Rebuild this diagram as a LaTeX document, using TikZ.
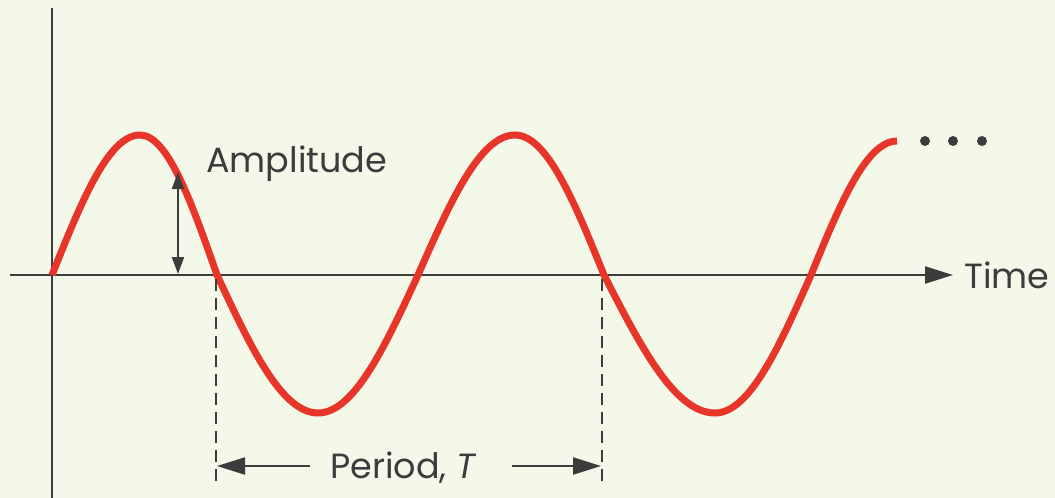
\documentclass[tikz,border=0pt]{standalone}
\usepackage{fontspec}
\setmainfont{Poppins}
\usetikzlibrary{arrows.meta,positioning}
\definecolor{bgcream}{HTML}{F4F8E8}
\definecolor{wavered}{HTML}{E8352A}
\definecolor{inkgray}{HTML}{3C3C3C}

\begin{document}
\begin{tikzpicture}[
  x=1pt, y=-1pt,
  axis/.style={draw=inkgray, line width=2.2pt},
  wave/.style={draw=wavered, line width=7pt},
  arrow/.style={-{Triangle[length=28pt,width=17pt]}, draw=inkgray, line width=2.2pt},
  amparrow/.style={{Triangle[length=17pt,width=12pt]}-{Triangle[length=17pt,width=12pt]}, draw=inkgray, line width=2pt},
  guide/.style={draw=inkgray, line width=2pt, dash pattern=on 12pt off 7pt},
  label/.style={text=inkgray, font=\fontsize{35}{38}\selectfont, inner sep=0pt},
  dot/.style={circle, fill=inkgray, inner sep=0pt, minimum size=10pt}
]
\fill[bgcream] (0,0) rectangle (1055,498);
\useasboundingbox (0,0) rectangle (1055,498);
% axes
\coordinate (ytop) at (52,8);
\coordinate (ybot) at (52,498);
\coordinate (xleft) at (10,275);
\coordinate (xright) at (953,275);
\draw[axis] (ytop) -- (ybot);
\draw[arrow] (xleft) -- (xright);
\node[label, anchor=base west] (time) at (964,288) {Time};
% the wave
\draw[wave] (52,275) sin (140,135) cos (217,275) sin (318,413) cos (418,275)
  sin (515,135) cos (604,275) sin (715,413) cos (811,275) sin (897,141);
\foreach \i/\x in {1/925, 2/953, 3/982}
  \node[dot] (dot\i) at (\x,141) {};
% amplitude
\coordinate (amptop) at (178,172);
\coordinate (ampbot) at (178,274);
\draw[amparrow] (amptop) -- (ampbot);
\node[label, anchor=base west] (amp) at (206,172) {Amplitude};
% period
\coordinate (guidel) at (216,279);
\coordinate (guidelend) at (216,488);
\coordinate (guider) at (602,279);
\coordinate (guiderend) at (602,488);
\draw[guide] (guidel) -- (guidelend);
\draw[guide] (guider) -- (guiderend);
\node[label, anchor=base west] (period) at (330,478) {Period, \textit{T}};
\coordinate (periodl) at (310,466);
\coordinate (periodr) at (512,466);
\coordinate (tipl) at (217,466);
\coordinate (tipr) at (601,466);
\draw[arrow] (periodl) -- (tipl);
\draw[arrow] (periodr) -- (tipr);
\end{tikzpicture}
\end{document}
